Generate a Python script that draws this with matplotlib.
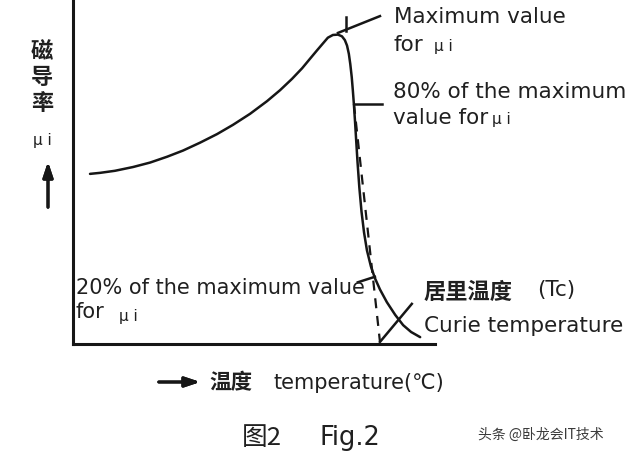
import matplotlib.pyplot as plt

# Schematic curve of initial permeability vs temperature (arbitrary units 0-100)
temperature = [4.7, 7.5, 11.6, 16.6, 21.3, 26.0, 30.4, 35.1, 39.8, 44.2, 48.9, 53.6,
               57.2, 60.5, 63.3, 65.5, 67.4, 69.1, 70.4, 71.8, 73.2, 74.3, 75.1,
               75.7, 76.2, 76.6, 77.0, 77.3, 77.6, 77.9, 78.2, 78.6, 79.1, 79.7, 80.4,
               81.2, 82.3, 83.4, 84.8, 86.7, 89.0, 91.2, 93.4, 95.9]
permeability = [49.6, 49.9, 50.5, 51.6, 52.9, 54.6, 56.4, 58.7, 61.2, 63.9, 67.1, 70.8,
                74.0, 77.3, 80.4, 83.2, 85.6, 87.7, 89.3, 90.1, 90.2, 89.7, 88.6,
                87.0, 84.6, 81.6, 77.8, 74.0, 69.8, 65.0, 59.8, 53.0, 45.6, 38.6, 32.5,
                27.3, 22.6, 19.2, 15.9, 12.2, 8.5, 5.5, 3.5, 2.0]

# tangent from the 80% point down to the Curie temperature
tangent_t = [77.6, 84.8]
tangent_mu = [70.0, 0.6]
curie_mark_t = [84.8, 93.6]
curie_mark_mu = [0.6, 11.7]

# leader lines for the labels
max_leader_t = [73.2, 84.8]
max_leader_mu = [90.7, 95.6]
max_tick_t = [75.4, 75.4]
max_tick_mu = [91.3, 95.3]
p80_leader_t = [77.6, 85.4]
p80_leader_mu = [70.0, 70.0]
p20_leader_t = [83.4, 78.7]
p20_leader_mu = [19.6, 18.0]

W, H = 640, 456
INK = '#161616'
CJK = ['Noto Sans CJK SC', 'DejaVu Sans']
LAT = ['DejaVu Sans', 'Noto Sans CJK SC']


def fx(px):
    return px / W


def fy(py):
    return 1 - py / H


fig = plt.figure(figsize=(6.4, 4.56), dpi=100)
ax = fig.add_axes([fx(73), fy(345), (435 - 73) / W, (345 - 2) / H])
ax.set_xlim(0, 100)
ax.set_ylim(0, 100)
for s in ['top', 'right']:
    ax.spines[s].set_visible(False)
for s in ['left', 'bottom']:
    ax.spines[s].set_linewidth(2.2)
    ax.spines[s].set_color(INK)
ax.set_xticks([])
ax.set_yticks([])

lw = 1.8
ax.plot(temperature, permeability, color=INK, lw=lw, solid_capstyle='round',
        solid_joinstyle='round', clip_on=False)
ax.plot(tangent_t, tangent_mu, color=INK, lw=1.6, dashes=(4.5, 3.5), clip_on=False)
ax.plot(curie_mark_t, curie_mark_mu, color=INK, lw=lw, clip_on=False)
ax.plot(max_leader_t, max_leader_mu, color=INK, lw=lw, clip_on=False)
ax.plot(max_tick_t, max_tick_mu, color=INK, lw=lw, clip_on=False)
ax.plot(p80_leader_t, p80_leader_mu, color=INK, lw=lw, clip_on=False)
ax.plot(p20_leader_t, p20_leader_mu, color=INK, lw=lw, clip_on=False)

txt = dict(color='#202020', family=LAT, va='center', ha='left')
fs = 15.5
small = 11

# right-hand labels
fig.text(fx(394), fy(17), 'Maximum value', fontsize=fs, **txt)
fig.text(fx(394), fy(45), 'for', fontsize=fs, **txt)
fig.text(fx(434), fy(47), 'μ i', fontsize=small, **txt)
fig.text(fx(393), fy(92), '80% of the maximum', fontsize=fs, **txt)
fig.text(fx(393), fy(118), 'value for', fontsize=fs, **txt)
fig.text(fx(492), fy(120), 'μ i', fontsize=small, **txt)

# lower-left label
fig.text(fx(76), fy(288), '20% of the maximum value', fontsize=15, **txt)
fig.text(fx(76), fy(312), 'for', fontsize=15, **txt)
fig.text(fx(119), fy(316), 'μ i', fontsize=small, **txt)

# Curie temperature label
fig.text(fx(424), fy(292), '居里温度', fontsize=16, color='#202020', family=CJK,
         weight='bold', va='center', ha='left')
fig.text(fx(537), fy(290), '(Tc)', fontsize=15.5, **txt)
fig.text(fx(424), fy(326), 'Curie temperature', fontsize=15.5, **txt)

# y label (vertical stack)
for ch, py in zip('磁导率', [52, 78, 103]):
    fig.text(fx(42), fy(py), ch, fontsize=16, color='#202020', family=CJK,
             weight='bold', va='center', ha='center')
fig.text(fx(42), fy(140), 'μ i', fontsize=small, color='#202020', family=LAT,
         va='center', ha='center')
fig.add_artist(plt.annotate('', xy=(fx(48), fy(160)), xytext=(fx(48), fy(211)),
                            xycoords='figure fraction', textcoords='figure fraction',
                            arrowprops=dict(arrowstyle='-|>,head_length=0.9,head_width=0.3',
                                            color=INK, lw=2.2)))

# x label
fig.add_artist(plt.annotate('', xy=(fx(203), fy(383)), xytext=(fx(156), fy(383)),
                            xycoords='figure fraction', textcoords='figure fraction',
                            arrowprops=dict(arrowstyle='-|>,head_length=0.9,head_width=0.3',
                                            color=INK, lw=2.2)))
fig.text(fx(209), fy(383), '温度', fontsize=15.5, color='#202020', family=CJK,
         weight='bold', va='center', ha='left')
fig.text(fx(274), fy(383), 'temperature(℃)', fontsize=15, **txt)

# caption
fig.text(fx(242), fy(438), '图2', fontsize=18.5, color='#202020', family=CJK,
         weight='medium', va='center', ha='left')
fig.text(fx(319), fy(438), 'Fig.2', fontsize=18.5, **txt)
fig.text(fx(478), fy(435), '头条 @卧龙会IT技术', fontsize=10, color='#3a3a3a',
         family=CJK, va='center', ha='left')

fig.savefig('out.png', dpi=100)
